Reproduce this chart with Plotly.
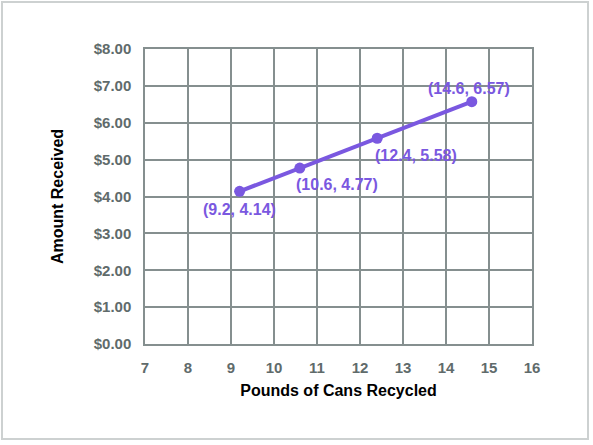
import plotly.graph_objects as go

# data
pounds = [9.2, 10.6, 12.4, 14.6]
amount = [4.14, 4.77, 5.58, 6.57]
point_labels = ['(9.2, 4.14)', '(10.6, 4.77)', '(12.4, 5.58)', '(14.6, 6.57)']

x_ticks = list(range(7, 17))
y_ticks = [0, 1, 2, 3, 4, 5, 6, 7, 8]
y_tick_text = ['$%.2f' % v for v in y_ticks]

# label offsets in pixels from each point (layout only)
label_shift = [(0, -18), (37, -16), (39, -17), (-3, 13)]

PURPLE = '#7a58e0'
GRID = '#858f8f'
TICK_GRAY = '#5f6b6b'

fig = go.Figure()
fig.add_trace(go.Scatter(
    x=pounds, y=amount,
    mode='lines+markers',
    line={'color': PURPLE, 'width': 4},
    marker={'color': PURPLE, 'size': 11},
    cliponaxis=False,
    showlegend=False,
    hoverinfo='skip',
))

for px_, py_, txt, (dx, dy) in zip(pounds, amount, point_labels, label_shift):
    fig.add_annotation(x=px_, y=py_, text=txt, showarrow=False,
                       xshift=dx, yshift=dy,
                       font={'color': PURPLE, 'size': 16, 'weight': 'bold'})

axis_common = dict(
    showgrid=True, gridcolor=GRID, gridwidth=1.5,
    showline=True, linecolor=GRID, linewidth=1.5, mirror=True,
    zeroline=False,
    ticks='outside', ticklen=9, tickcolor='rgba(0,0,0,0)',
    tickfont={'size': 15, 'color': TICK_GRAY, 'weight': 'bold'},
)

fig.update_layout(
    width=593, height=445,
    margin={'l': 145, 'r': 61, 't': 49, 'b': 101},
    paper_bgcolor='white', plot_bgcolor='white',
    font={'family': 'Liberation Sans, Arial, sans-serif'},
    xaxis=dict(axis_common, range=[7, 16], tickvals=x_ticks,
               title={'text': 'Pounds of Cans Recycled', 'standoff': 10,
                      'font': {'size': 16, 'color': 'black', 'weight': 'bold'}}),
    yaxis=dict(axis_common, range=[0, 8], tickvals=y_ticks, ticktext=y_tick_text,
               title={'text': 'Amount Received', 'standoff': 26,
                      'font': {'size': 16, 'color': 'black', 'weight': 'bold'}}),
    shapes=[dict(type='rect', xref='paper', yref='paper',
                 x0=-0.3695, x1=1.1447, y0=-0.322, y1=1.159,
                 line={'color': '#cdd1d1', 'width': 2}, layer='below')],
)

fig.write_html('out.html', config={'displayModeBar': False},
               post_script="document.body.style.margin='0';")
